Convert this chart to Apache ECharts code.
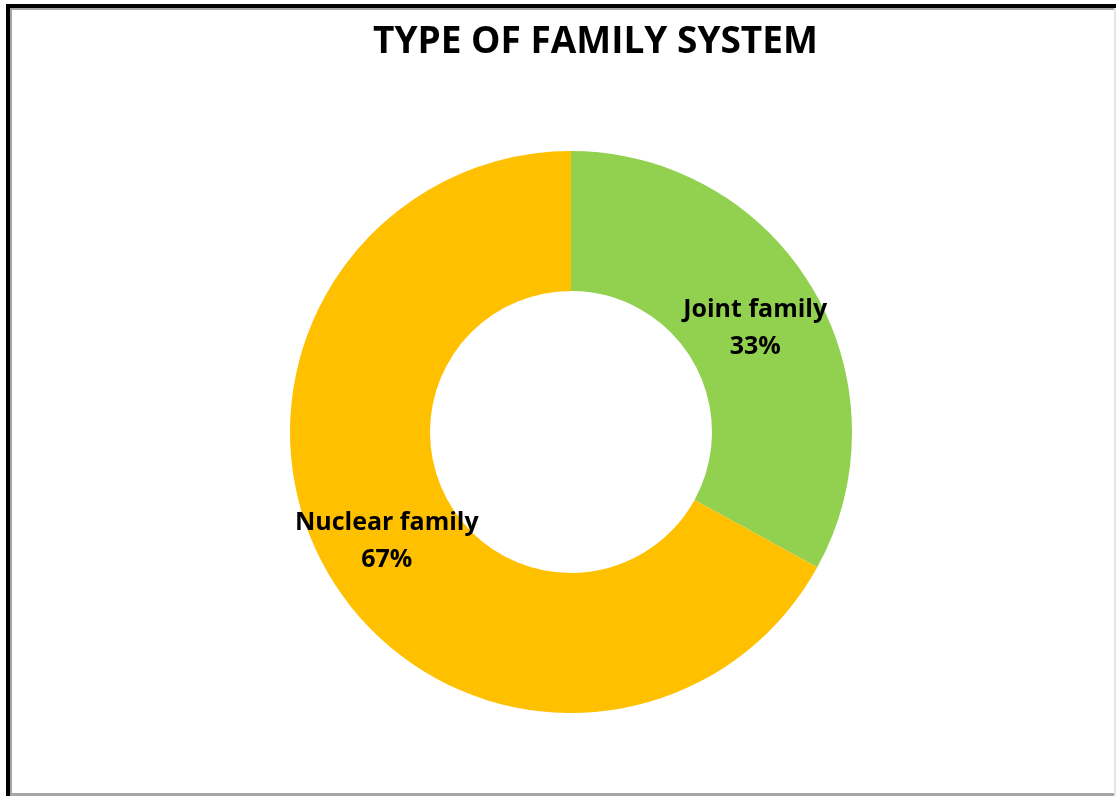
<!DOCTYPE html>
<html>
<head>
<meta charset="utf-8">
<script src="https://cdn.jsdelivr.net/npm/echarts@6/dist/echarts.min.js"></script>
<style>
  html, body { margin: 0; padding: 0; background: #ffffff; }
  #chart { width: 1116px; height: 796px; }
</style>
</head>
<body>
<div id="chart"></div>
<script>
// Family system shares (percent)
const categories = ['Joint family', 'Nuclear family'];
const shares = [33, 67];
const colors = ['#92D050', '#FFC000'];

const chart = echarts.init(document.getElementById('chart'), null, { renderer: 'canvas' });

// small nudges for the in-ring labels
const labelOffsets = [[0, 5], [0, 0]];

chart.setOption({
  backgroundColor: '#ffffff',
  animation: false,
  title: {
    text: 'TYPE OF FAMILY SYSTEM',
    left: 368,
    top: 19,
    textStyle: {
      fontFamily: 'Open Sans',
      fontWeight: 'bold',
      fontSize: 37,
      color: '#000000'
    }
  },
  graphic: [
    // frame: heavy dark top/left edges, thin grey inner and outer edges
    { type: 'rect', shape: { x: 6, y: 4, width: 1110, height: 4 }, style: { fill: '#000000' }, silent: true },
    { type: 'rect', shape: { x: 6, y: 4, width: 4, height: 792 }, style: { fill: '#000000' }, silent: true },
    { type: 'rect', shape: { x: 10, y: 8, width: 1106, height: 2 }, style: { fill: '#a6a6a6' }, silent: true },
    { type: 'rect', shape: { x: 10, y: 8, width: 2, height: 788 }, style: { fill: '#a6a6a6' }, silent: true },
    { type: 'rect', shape: { x: 10, y: 793, width: 1106, height: 3 }, style: { fill: '#a6a6a6' }, silent: true },
    { type: 'rect', shape: { x: 1114, y: 8, width: 2, height: 788 }, style: { fill: '#e6e6e6' }, silent: true }
  ],
  series: [{
    type: 'pie',
    center: [571, 432],
    radius: [141, 281],
    startAngle: 90,
    clockwise: true,
    avoidLabelOverlap: false,
    data: categories.map((name, i) => ({
      name,
      value: shares[i],
      itemStyle: { color: colors[i] },
      label: { offset: labelOffsets[i] }
    })),
    label: {
      show: true,
      position: 'inside',
      formatter: p => p.name + '\n' + p.value + '%',
      fontFamily: 'Open Sans',
      fontWeight: 'bold',
      fontSize: 25,
      lineHeight: 37,
      color: '#000000'
    },
    labelLine: { show: false },
    emphasis: { disabled: true }
  }]
});
</script>
</body>
</html>
